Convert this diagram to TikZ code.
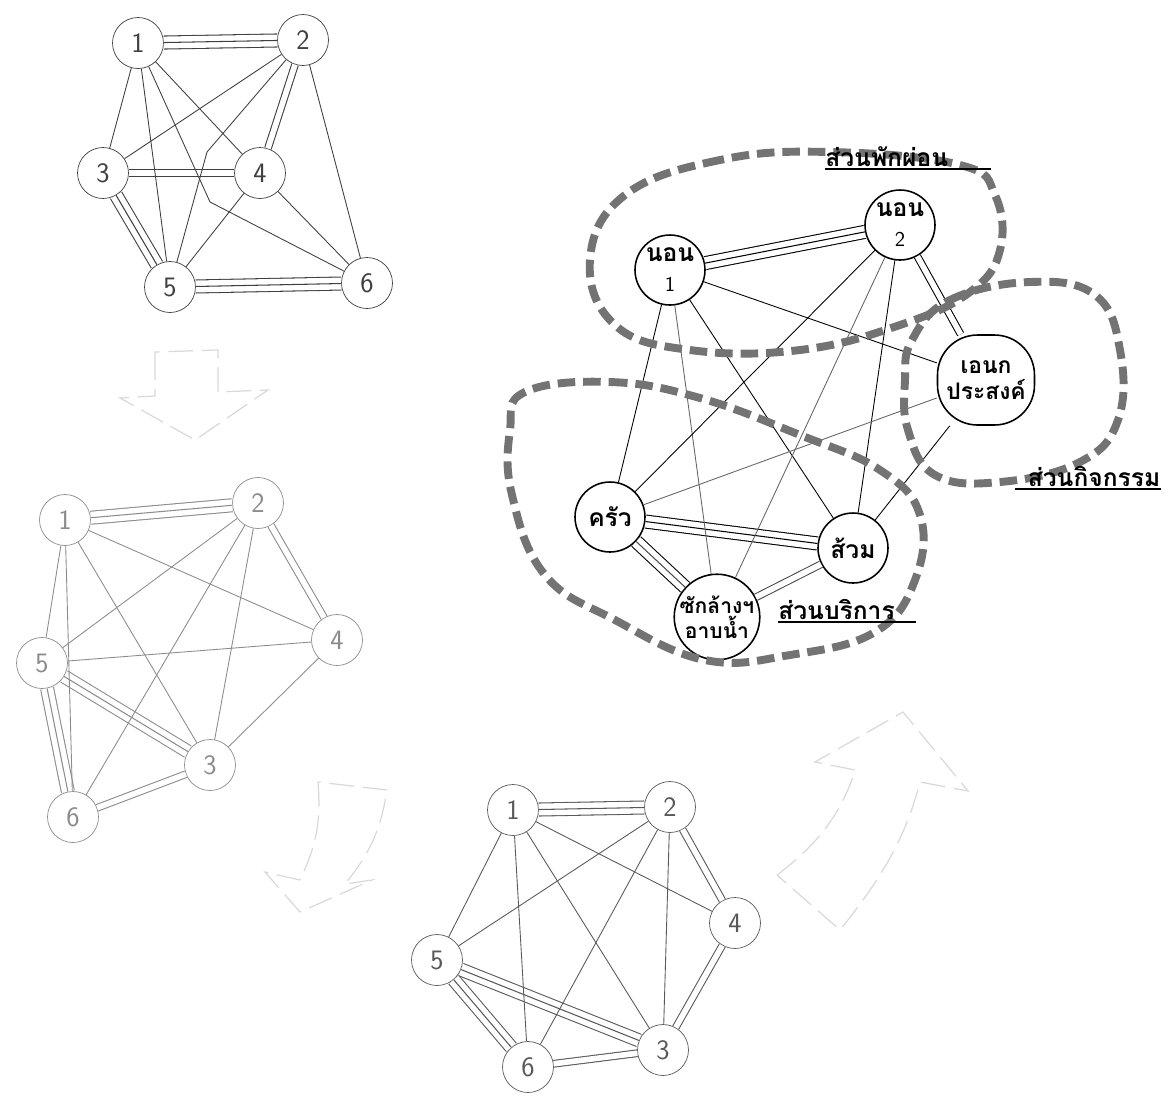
\documentclass[tikz,border=0pt]{standalone}
\usepackage{fontspec}
\newfontfamily\thaifont[Script=Thai]{Loma}
\usetikzlibrary{arrows.meta,positioning,calc}

\begin{document}
\begin{tikzpicture}[
  x=0.02cm, y=-0.02cm,
  gnode/.style={draw, circle, fill=white, minimum size=1.02cm, inner sep=0pt, font=\sffamily\fontsize{16}{18}\selectfont},
  room/.style={draw, circle, fill=white, line width=0.9pt, minimum size=1.4cm, inner sep=0pt, align=center, font=\thaifont\bfseries\fontsize{14}{15}\selectfont},
  hall/.style={draw, rounded corners=0.8cm, fill=white, line width=0.9pt, minimum width=1.94cm, minimum height=1.8cm, inner sep=0pt, align=center, font=\thaifont\bfseries\fontsize{13}{15}\selectfont},
  one/.style={line width=0.5pt},
  dbl/.style={line width=0.6pt, double, double distance=3.2pt},
  tri/.style={line width=0.6pt, preaction={draw, line width=8pt}, preaction={draw=white, line width=6.8pt}},
  zone/.style={draw=black!55, line width=4.5pt, dash pattern=on 10pt off 4.5pt},
  zonelabel/.style={inner xsep=0pt, inner ysep=1pt, anchor=south west, font=\thaifont\bfseries\fontsize{14}{16}\selectfont},
  faint/.style={draw=black!15, line width=0.7pt, dash pattern=on 14pt off 5pt},
]
\useasboundingbox (0,0) rectangle (1171,1107);

% first arrangement
\begin{scope}[black!75]
\node[gnode] (a1) at (138,43) {1};
\node[gnode] (a2) at (303,40) {2};
\node[gnode] (a3) at (103,173) {3};
\node[gnode] (a4) at (260,173) {4};
\node[gnode] (a5) at (170,287) {5};
\node[gnode] (a6) at (367,283) {6};
\coordinate (a16) at (210,202);
\coordinate (a25) at (207,152);
\draw[tri] (a1) -- (a2);
\draw[tri] (a3) -- (a5);
\draw[tri] (a5) -- (a6);
\draw[dbl] (a3) -- (a4);
\draw[dbl] (a2) -- (a4);
\draw[one] (a1) -- (a3);
\draw[one] (a1) -- (a5);
\draw[one] (a1) -- (a4);
\draw[one] (a1) -- (a16) -- (a6);
\draw[one] (a2) -- (a3);
\draw[one] (a2) -- (a25) -- (a5);
\draw[one] (a2) -- (a6);
\draw[one] (a4) -- (a5);
\draw[one] (a4) -- (a6);
\end{scope}

% second arrangement
\begin{scope}[black!45]
\node[gnode] (b1) at (65,520) {1};
\node[gnode] (b2) at (258,503) {2};
\node[gnode] (b4) at (337,640) {4};
\node[gnode] (b5) at (42,663) {5};
\node[gnode] (b3) at (210,765) {3};
\node[gnode] (b6) at (73,817) {6};
\draw[tri] (b1) -- (b2);
\draw[tri] (b5) -- (b6);
\draw[tri] (b5) -- (b3);
\draw[dbl] (b6) -- (b3);
\draw[dbl] (b2) -- (b4);
\draw[one] (b1) -- (b5);
\draw[one] (b1) -- (b6);
\draw[one] (b1) -- (b3);
\draw[one] (b1) -- (b4);
\draw[one] (b2) -- (b5);
\draw[one] (b2) -- (b6);
\draw[one] (b2) -- (b3);
\draw[one] (b5) -- (b4);
\draw[one] (b4) -- (b3);
\end{scope}

% third arrangement
\begin{scope}[black!65]
\node[gnode] (c1) at (513,810) {1};
\node[gnode] (c2) at (670,807) {2};
\node[gnode] (c4) at (735,923) {4};
\node[gnode] (c5) at (437,960) {5};
\node[gnode] (c3) at (663,1050) {3};
\node[gnode] (c6) at (528,1067) {6};
\draw[tri] (c1) -- (c2);
\draw[tri] (c5) -- (c3);
\draw[tri] (c5) -- (c6);
\draw[dbl] (c2) -- (c4);
\draw[dbl] (c4) -- (c3);
\draw[dbl] (c6) -- (c3);
\draw[one] (c1) -- (c5);
\draw[one] (c1) -- (c6);
\draw[one] (c1) -- (c3);
\draw[one] (c1) -- (c4);
\draw[one] (c2) -- (c5);
\draw[one] (c2) -- (c6);
\draw[one] (c2) -- (c3);
\end{scope}

% faint arrows between arrangements
\draw[faint] (155,372) -- (155,352) -- (218,350) -- (218,392) -- (268,390) -- (195,440) -- (120,398) -- (155,396) -- cycle;
\draw[faint] (318,782) to[bend left=15] (300,880) -- (265,872) -- (300,912) -- (372,880) -- (345,884) to[bend right=15] (387,790) -- cycle;
\draw[faint] (777,875) .. controls (810,850) and (840,820) .. (855,770)
  -- (815,762) -- (903,712) -- (968,791) -- (920,782) .. controls (905,840) and (880,880) .. (840,930) -- cycle;

% zoned plan
\node[room] (n1) at (670,270) {นอน\\[2pt]{\sffamily\mdseries\fontsize{12}{12}\selectfont 1}};
\node[room] (n2) at (900,225) {นอน\\[2pt]{\sffamily\mdseries\fontsize{12}{12}\selectfont 2}};
\node[hall] (hall) at (986,380) {เอนก\\ประสงค์};
\node[room] (kit) at (610,517) {ครัว};
\node[room] (wc) at (853,548) {ส้วม};
\node[room, font=\thaifont\bfseries\fontsize{12}{14}\selectfont] (wash) at (717,617) {ซักล้างฯ\\อาบน้ำ};

\draw[tri] (n1) -- (n2);
\draw[tri] (kit) -- (wc);
\draw[tri, black!70] (kit) -- (wash);
\draw[dbl] (n2) -- (hall);
\draw[dbl, black!70] (wc) -- (wash);
\draw[one] (n1) -- (hall);
\draw[one] (n1) -- (kit);
\draw[one, black!60] (n1) -- (wash);
\draw[one] (n1) -- (wc);
\draw[one] (n2) -- (kit);
\draw[one, black!60] (n2) -- (wash);
\draw[one] (n2) -- (wc);
\draw[one] (wc) -- (hall);
\draw[one, black!60] (kit) -- (hall);

\draw[zone] plot[smooth cycle, tension=0.7] coordinates {(830,152) (720,160) (625,195) (590,260) (615,325) (690,350) (800,350) (900,325) (970,292) (1000,250) (995,195) (960,165)};
\draw[zone] plot[smooth cycle, tension=0.7] coordinates {(912,340) (950,300) (1030,282) (1095,295) (1120,350) (1118,420) (1080,462) (1000,482) (935,475) (908,430) (905,380)};
\draw[zone] plot[smooth cycle, tension=0.7] coordinates {(525,392) (610,382) (700,398) (800,435) (880,470) (920,515) (915,580) (875,632) (790,655) (705,660) (615,620) (545,575) (512,495) (510,430)};

\node[zonelabel, text width=3.3cm, align=left] (restlbl) at (825,169) {ส่วนพักผ่อน};
\draw[line width=0.8pt] (restlbl.south west) -- (restlbl.south east);
\node[zonelabel, text width=2.9cm, align=right] (actlbl) at (1015,489) {ส่วนกิจกรรม};
\draw[line width=0.8pt] (actlbl.south west) -- (actlbl.south east);
\node[zonelabel, text width=2.74cm, align=left] (servlbl) at (778,622) {ส่วนบริการ};
\draw[line width=0.8pt] (servlbl.south west) -- (servlbl.south east);
\end{tikzpicture}
\end{document}
